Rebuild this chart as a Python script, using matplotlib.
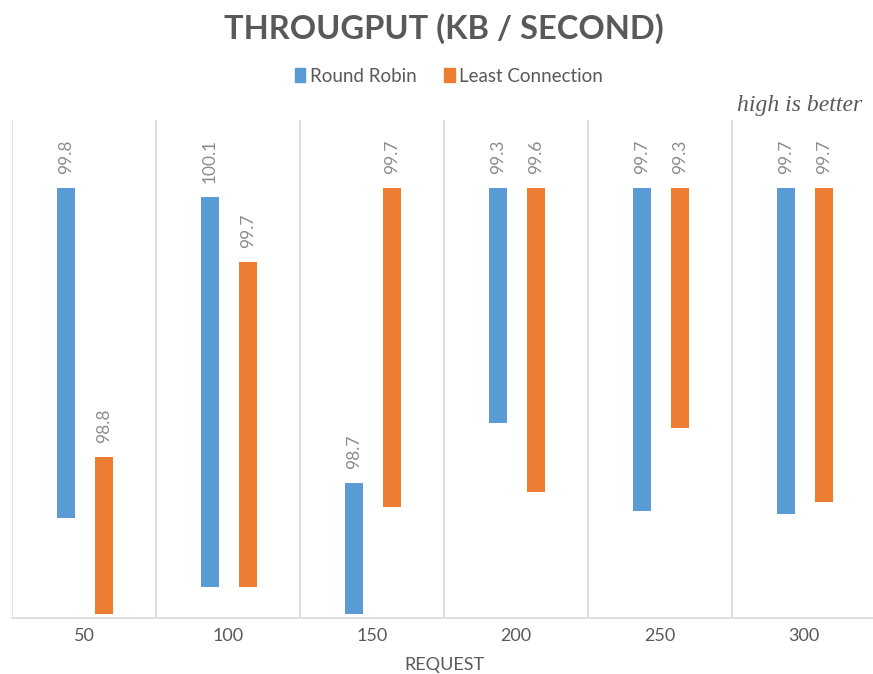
import matplotlib
matplotlib.use('Agg')
import matplotlib.pyplot as plt
import matplotlib as mpl
from matplotlib.patches import Patch
import numpy as np

mpl.rcParams['font.family'] = ['Lato', 'DejaVu Sans']

# throughput per request count (KB / second)
requests = ['50', '100', '150', '200', '250', '300']
rr_labels = [99.8, 100.1, 98.7, 99.3, 99.7, 99.7]
lc_labels = [98.8, 99.7, 99.7, 99.6, 99.3, 99.7]

# floating bar extents on the chart's own 0-100 scale
rr_top = [86.3, 84.5, 27.1, 86.3, 86.3, 86.3]
rr_bottom = [20.1, 6.2, 0.8, 39.2, 21.5, 20.9]
lc_top = [32.3, 71.5, 86.3, 86.3, 86.3, 86.3]
lc_bottom = [0.8, 6.2, 22.3, 25.3, 38.2, 23.3]

blue = '#5B9BD5'
orange = '#ED7D31'
grid = '#D9D9D9'
label_gray = '#8C8C8C'
text_gray = '#595959'

W, H = 873, 674
fig = plt.figure(figsize=(W / 100, H / 100), dpi=100)
ax = fig.add_axes([12 / W, (H - 618) / H, 864 / W, 498 / H])

x = np.arange(len(requests))
width = 0.128
rr_x = x - 0.125
lc_x = x + 0.14

ax.bar(rr_x, np.array(rr_top) - np.array(rr_bottom), width, bottom=rr_bottom,
       color=blue, zorder=3)
ax.bar(lc_x, np.array(lc_top) - np.array(lc_bottom), width, bottom=lc_bottom,
       color=orange, zorder=3)

for xi, top, val in zip(rr_x, rr_top, rr_labels):
    ax.annotate(f'{val}', (xi, top), xytext=(0, 10), textcoords='offset points',
                rotation=90, ha='center', va='bottom', fontsize=12.5, color=label_gray)
for xi, top, val in zip(lc_x, lc_top, lc_labels):
    ax.annotate(f'{val}', (xi, top), xytext=(0, 10), textcoords='offset points',
                rotation=90, ha='center', va='bottom', fontsize=12.5, color=label_gray)

# category separators
for b in np.arange(-0.5, len(requests), 1.0):
    ax.axvline(b, color=grid, lw=1.2, zorder=1)

ax.set_xlim(-0.5, len(requests) - 0.5)
ax.set_ylim(0, 100)
ax.set_yticks([])
ax.set_xticks(x)
ax.set_xticklabels(requests, fontsize=13, color=text_gray)
ax.tick_params(axis='x', length=0, pad=7)
for s in ['top', 'right', 'left']:
    ax.spines[s].set_visible(False)
ax.spines['bottom'].set_color(grid)
ax.spines['bottom'].set_linewidth(1.2)

fig.text(444 / W, 1 - 665 / H, 'REQUEST', ha='center', va='center',
         fontsize=13, color=text_gray)

fig.text(444 / W, 1 - 29 / H, 'THROUGPUT (KB / SECOND)', ha='center', va='center',
         fontsize=23.5, fontweight='bold', color=text_gray)

handles = [Patch(color=blue, label='Round Robin'),
           Patch(color=orange, label='Least Connection')]
fig.legend(handles=handles, loc='center', bbox_to_anchor=(449 / W, 1 - 76 / H), ncol=2,
           frameon=False, fontsize=13.5, handlelength=0.55, handleheight=0.8,
           handletextpad=0.25, columnspacing=1.5, labelcolor=text_gray)

fig.text(862 / W, 1 - 106 / H, 'high is better', ha='right', va='center',
         fontsize=17, style='italic', family='Liberation Serif', color='#595959')

fig.savefig('out.png', dpi=100)
